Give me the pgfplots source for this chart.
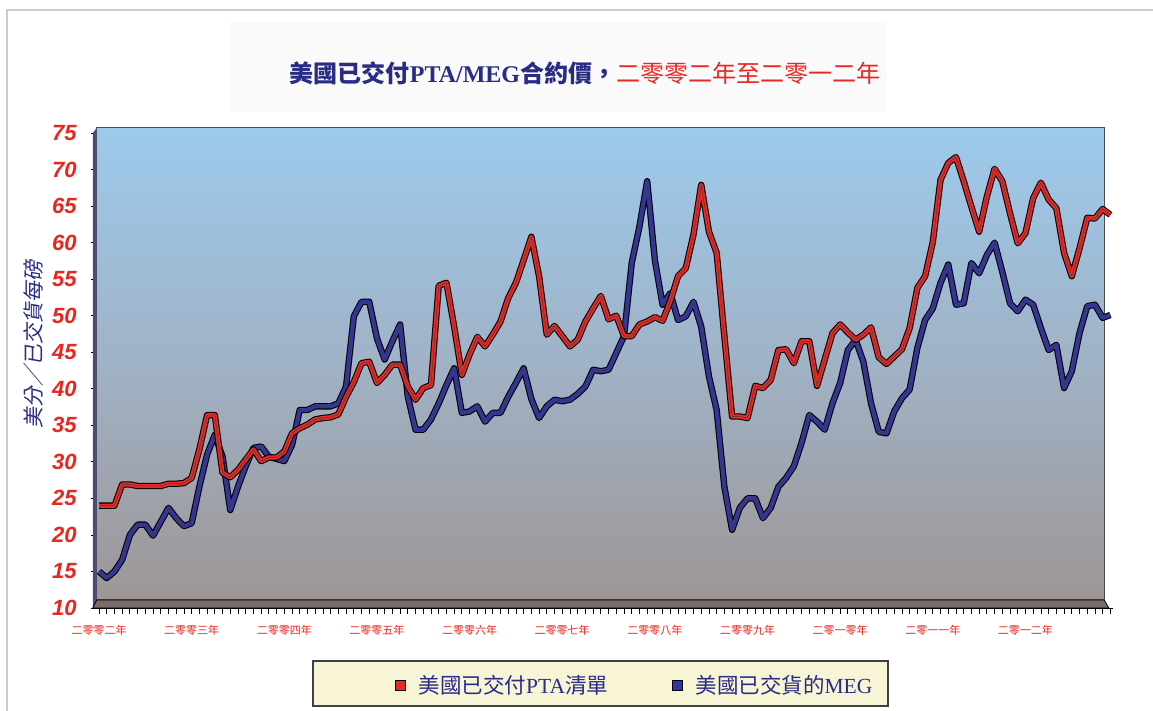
\documentclass[border=0pt]{standalone}
\usepackage{fontspec}
\setmainfont{Liberation Serif}
\setsansfont{Liberation Sans}
\newfontfamily\cjk{Noto Sans CJK TC}
\newfontfamily\cjksl{Noto Sans CJK TC}[FakeSlant=0.18]
\usepackage{pgfplots}
\pgfplotsset{compat=1.18}
\usepackage{pgfplotstable}

\definecolor{walltop}{RGB}{157,202,236}
\definecolor{wallmid}{RGB}{160,178,198}
\definecolor{wallbot}{RGB}{158,150,150}
\definecolor{floorc}{RGB}{120,108,108}
\definecolor{ptared}{RGB}{232,40,36}
\definecolor{megblue}{RGB}{52,52,160}
\definecolor{titleblue}{RGB}{40,44,135}
\definecolor{tickred}{RGB}{232,38,30}
\definecolor{legfill}{RGB}{248,244,214}
\definecolor{boxbg}{RGB}{250,250,250}

\pgfplotstableread{
i pta meg
0 24.0 15.0
1 24.0 14.1
2 24.0 15.0
3 26.9 16.6
4 26.9 20.0
5 26.7 21.4
6 26.7 21.4
7 26.7 19.9
8 26.7 21.8
9 27.0 23.7
10 27.0 22.3
11 27.1 21.2
12 27.8 21.6
13 31.7 26.6
14 36.4 31.0
15 36.4 33.7
16 28.5 30.7
17 27.9 23.4
18 28.9 26.6
19 30.3 29.4
20 31.7 31.9
21 30.1 32.1
22 30.6 30.7
23 30.6 30.4
24 31.4 30.1
25 33.9 32.3
26 34.6 37.1
27 35.1 37.1
28 35.8 37.6
29 36.0 37.6
30 36.1 37.6
31 36.5 38.0
32 38.9 40.3
33 40.9 49.9
34 43.5 51.9
35 43.7 51.9
36 40.8 46.9
37 41.9 44.0
38 43.3 46.5
39 43.3 48.8
40 40.3 38.9
41 38.5 34.4
42 40.1 34.4
43 40.5 35.8
44 54.1 38.0
45 54.5 40.5
46 48.5 42.8
47 41.9 36.7
48 44.7 36.9
49 47.1 37.6
50 45.8 35.5
51 47.4 36.7
52 49.2 36.7
53 52.4 38.9
54 54.5 40.8
55 57.6 42.8
56 60.8 38.6
57 55.4 36.0
58 47.4 37.6
59 48.6 38.5
60 47.2 38.3
61 45.8 38.5
62 46.7 39.3
63 49.2 40.3
64 51.0 42.6
65 52.7 42.4
66 49.5 42.6
67 50.0 44.9
68 47.2 47.2
69 47.2 57.2
70 48.8 62.2
71 49.2 68.4
72 49.8 57.6
73 49.3 51.5
74 52.0 53.1
75 55.4 49.4
76 56.5 49.9
77 61.1 51.9
78 67.9 48.5
79 61.5 41.7
80 58.6 37.1
81 47.2 26.6
82 36.2 20.7
83 36.2 23.7
84 36.0 25.0
85 40.4 25.0
86 40.1 22.3
87 41.2 23.7
88 45.3 26.6
89 45.4 27.8
90 43.5 29.4
91 46.5 32.6
92 46.5 36.4
93 40.4 35.5
94 44.0 34.4
95 47.6 38.0
96 48.8 40.8
97 47.7 45.3
98 46.7 46.7
99 47.4 43.7
100 48.4 38.0
101 44.3 34.1
102 43.4 33.9
103 44.4 36.9
104 45.4 38.7
105 48.3 39.9
106 53.8 45.6
107 55.4 49.4
108 60.1 51.0
109 68.6 54.5
110 70.9 57.0
111 71.7 51.5
112 68.4 51.7
113 64.9 57.2
114 61.5 55.8
115 66.3 58.3
116 70.1 60.0
117 68.4 56.0
118 64.0 51.7
119 59.9 50.6
120 61.3 52.2
121 66.1 51.5
122 68.2 48.3
123 65.9 45.3
124 64.7 46.0
125 58.6 40.1
126 55.4 42.4
127 59.2 47.6
128 63.4 51.3
129 63.3 51.5
130 64.6 49.7
131 63.8 50.1
}\data

\begin{document}
\begin{tikzpicture}[x=1pt,y=1pt]
\begin{axis}[
  name=ax,
  scale only axis, width=1016pt, height=475pt,
  xmin=-0.3, xmax=131.3, ymin=10, ymax=75,
  clip=false,
  axis lines*=left,
  axis line style={black, line width=0.8pt},
  ytick={10,15,...,75},
  xtick={0,12,...,120},
  xticklabels={二零零二年,二零零三年,二零零四年,二零零五年,二零零六年,二零零七年,二零零八年,二零零九年,二零一零年,二零一一年,二零一二年},
  minor xtick={0,...,131},
  tick align=outside,
  major tick length=6pt, minor tick length=6pt,
  tick style={black, line width=0.8pt},
  /pgf/number format/assume math mode=true,
  yticklabel style={font=\fontsize{22}{22}\selectfont\sffamily\bfseries\itshape, text=tickred, anchor=east, inner sep=0pt, xshift=-14pt},
  xticklabel style={font=\fontsize{11}{11}\selectfont\cjk, text=tickred, anchor=north, inner sep=0pt, yshift=-11pt},
  ylabel={\cjksl 美分／已交貨每磅},
  ylabel style={at={(axis description cs:-0.0627,0.554)}, anchor=center, font=\fontsize{21}{21}\selectfont, text=titleblue},
  legend style={at={(axis description cs:0.2936,-0.163)}, anchor=west, draw=none, fill=none,
    font=\fontsize{21.5}{21.5}\selectfont, text=titleblue, inner sep=0pt,
    /tikz/every even column/.append style={column sep=62pt}},
  legend columns=2,
  legend cell align=left,
]
% legend box
\filldraw[fill=legfill, draw=black!75, line width=1.2pt] (axis description cs:0.2129,-0.1116) rectangle (axis description cs:0.7789,-0.2063);
% back wall
\shade[top color=walltop, bottom color=wallbot, middle color=wallmid] (axis cs:-0.3,11.1) rectangle (axis cs:130.2,75.7);
\draw[black!70, line width=1pt] (axis cs:-0.3,11.1) rectangle (axis cs:130.2,75.7);
% left side strip
\fill[black!60!blue!40!gray] (axis cs:-0.8,10) -- (axis cs:-0.3,11.1) -- (axis cs:-0.3,75.7) -- (axis cs:-0.8,75.0) -- cycle;
% floor
\filldraw[fill=floorc, draw=black, line width=0.8pt] (axis cs:-0.8,10) -- (axis cs:-0.3,11.1) -- (axis cs:130.2,11.1) -- (axis cs:130.8,10) -- cycle;

\addlegendimage{legend image code/.code={\draw[fill=ptared, draw=black, line width=1pt] (0pt,-5pt) rectangle (10pt,5pt); \draw[draw=none, fill=none] (0pt,0pt) rectangle (21pt,0.1pt);}}
\addlegendentry{{\cjk 美國已交付}PTA{\cjk 清單}}
\addlegendimage{legend image code/.code={\draw[fill=megblue, draw=black, line width=1pt] (0pt,-5pt) rectangle (10pt,5pt); \draw[draw=none, fill=none] (0pt,0pt) rectangle (21pt,0.1pt);}}
\addlegendentry{{\cjk 美國已交貨的}MEG}

\addplot[black, line width=6.4pt, line join=round, forget plot] table[x=i, y=meg] {\data};
\addplot[megblue, line width=4.3pt, line join=round, forget plot] table[x=i, y=meg] {\data};
\addplot[black!75, line width=0.5pt, line join=round, forget plot] table[x=i, y=meg] {\data};
\addplot[black, line width=6.4pt, line join=round, forget plot] table[x=i, y=pta] {\data};
\addplot[ptared, line width=4.3pt, line join=round, forget plot] table[x=i, y=pta] {\data};
\addplot[black!75, line width=0.5pt, line join=round, forget plot] table[x=i, y=pta] {\data};
\end{axis}
\begin{scope}[shift={(ax.south west)}]
\path[use as bounding box] (-96.7,-103) rectangle (1056.3,608);
\draw[gray!40, line width=1.5pt] (-89.7,-103) -- (-89.7,598) -- (1056.3,598);
\fill[boxbg] (133.3,496) rectangle (790.3,586);
\node[anchor=center, inner sep=0pt] at (488.3,535)
  {\fontsize{24}{24}\selectfont\color{titleblue}{\cjk\bfseries 美國已交付}\textbf{PTA/MEG}{\cjk\bfseries 合約價，}{\color{ptared}\cjk 二零零二年至二零一二年}};
\end{scope}
\end{tikzpicture}
\end{document}
